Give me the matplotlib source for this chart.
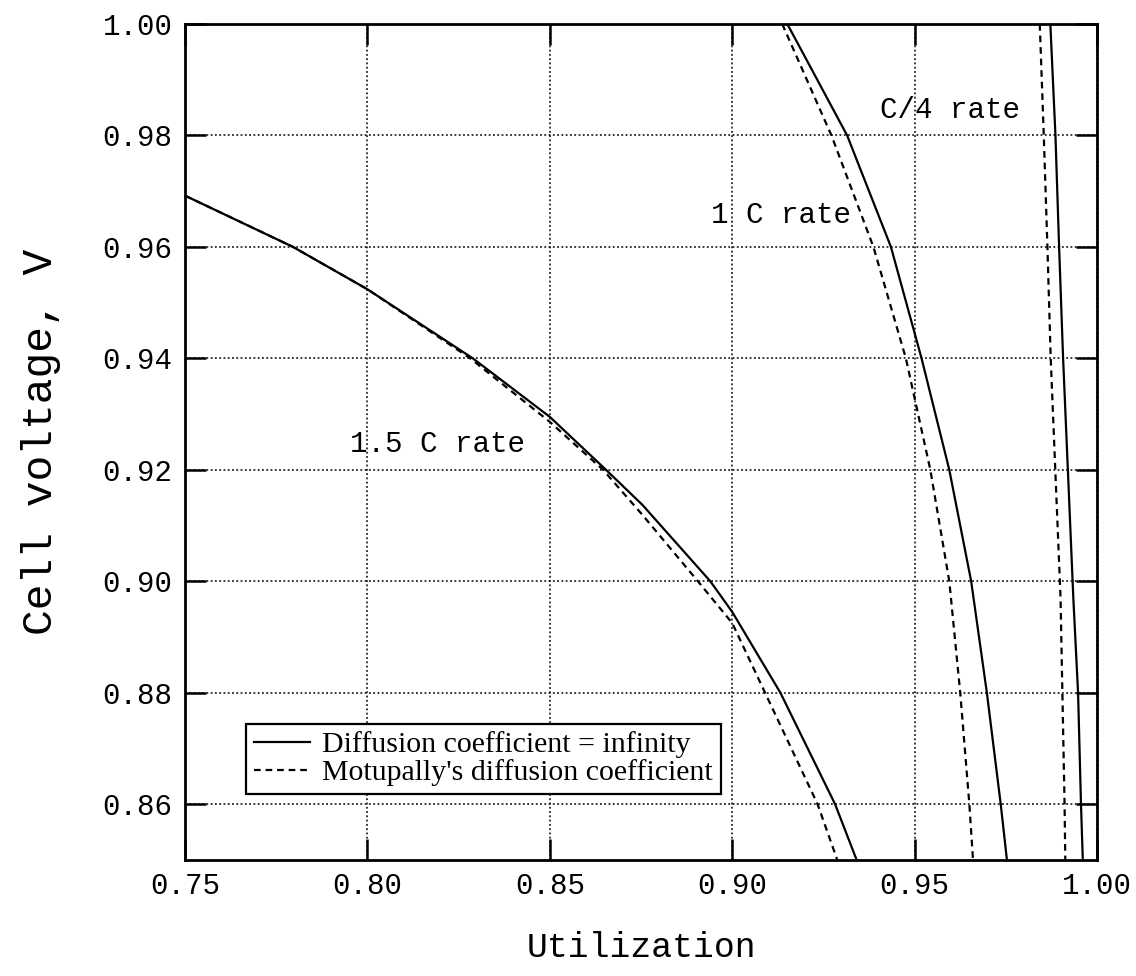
import matplotlib
matplotlib.use('Agg')
import matplotlib.pyplot as plt

plt.rcParams['font.family'] = ['Liberation Mono', 'DejaVu Sans Mono']

# 1.5 C rate
u15_inf = [0.750, 0.7796, 0.800, 0.8289, 0.850, 0.8654, 0.8754, 0.894, 0.900, 0.9132, 0.9282, 0.9341]
v15_inf = [0.9692, 0.960, 0.9524, 0.940, 0.9295, 0.920, 0.9137, 0.900, 0.8945, 0.880, 0.860, 0.850]
u15_mot = [0.750, 0.7796, 0.800, 0.8282, 0.850, 0.8646, 0.8754, 0.8906, 0.900, 0.9090, 0.9234, 0.9288]
v15_mot = [0.9692, 0.960, 0.9524, 0.940, 0.9286, 0.920, 0.9119, 0.900, 0.8925, 0.880, 0.860, 0.850]

# 1 C rate
u1_inf = [0.9151, 0.9315, 0.9435, 0.9519, 0.9595, 0.9655, 0.9698, 0.9736, 0.9753]
v1_inf = [1.000, 0.980, 0.960, 0.940, 0.920, 0.900, 0.880, 0.860, 0.850]
u1_mot = [0.9137, 0.9272, 0.9387, 0.9476, 0.9543, 0.9595, 0.9625, 0.9650, 0.9660]
v1_mot = [1.000, 0.980, 0.960, 0.940, 0.920, 0.900, 0.880, 0.860, 0.850]

# C/4 rate
u4_inf = [0.9872, 0.9886, 0.9896, 0.9907, 0.9935, 0.9948, 0.9956, 0.9961]
v4_inf = [1.000, 0.980, 0.960, 0.940, 0.897, 0.880, 0.860, 0.850]
u4_mot = [0.9843, 0.9854, 0.9864, 0.9873, 0.9900, 0.9905, 0.9911, 0.9913]
v4_mot = [1.000, 0.980, 0.960, 0.940, 0.897, 0.880, 0.860, 0.850]

xticks = [0.75, 0.80, 0.85, 0.90, 0.95, 1.00]
yticks = [0.86, 0.88, 0.90, 0.92, 0.94, 0.96, 0.98, 1.00]

fig = plt.figure(figsize=(11.36, 9.76), dpi=100)
ax = fig.add_axes([0.1629, 0.1189, 0.8028, 0.8565])

solid = dict(color='black', lw=1.6, ls='-', solid_joinstyle='round')
dash = dict(color='black', lw=1.6, ls=(0, (3.0, 2.2)))

ax.plot(u15_inf, v15_inf, label='Diffusion coefficient = infinity', **solid)
ax.plot(u15_mot, v15_mot, label="Motupally's diffusion coefficient", **dash)
ax.plot(u1_inf, v1_inf, **solid)
ax.plot(u1_mot, v1_mot, **dash)
ax.plot(u4_inf, v4_inf, **solid)
ax.plot(u4_mot, v4_mot, **dash)

ax.set_xlim(0.75, 1.00)
ax.set_ylim(0.85, 1.00)
ax.set_xticks(xticks)
ax.set_yticks(yticks)
ax.set_xticklabels(['%.2f' % t for t in xticks])
ax.set_yticklabels(['%.2f' % t for t in yticks])
ax.tick_params(direction='in', length=15, width=1.8, top=True, right=True,
               labelsize=21, pad=9)
for sp in ax.spines.values():
    sp.set_linewidth(2.0)

ax.grid(True, color='black', ls=(0, (1.2, 1.6)), lw=1.1)
ax.set_axisbelow(True)

ax.set_xlabel('Utilization', fontsize=25, labelpad=22)
ax.set_ylabel('Cell voltage, V', fontsize=31, labelpad=30)

ax.text(0.7952, 0.9246, '1.5 C rate', fontsize=21, va='center', ha='left')
ax.text(0.9325, 0.9657, '1 C rate', fontsize=21, va='center', ha='right')
ax.text(0.9406, 0.9846, 'C/4 rate', fontsize=21, va='center', ha='left')

leg = ax.legend(loc='lower left', bbox_to_anchor=(0.067, 0.079), borderaxespad=0,
                fancybox=False, framealpha=1, edgecolor='black',
                prop={'family': 'Liberation Serif', 'size': 21.5},
                handlelength=1.9, handletextpad=0.4, borderpad=0.25,
                labelspacing=0.05)
leg.get_frame().set_linewidth(1.6)

fig.savefig('out.png', dpi=100)
